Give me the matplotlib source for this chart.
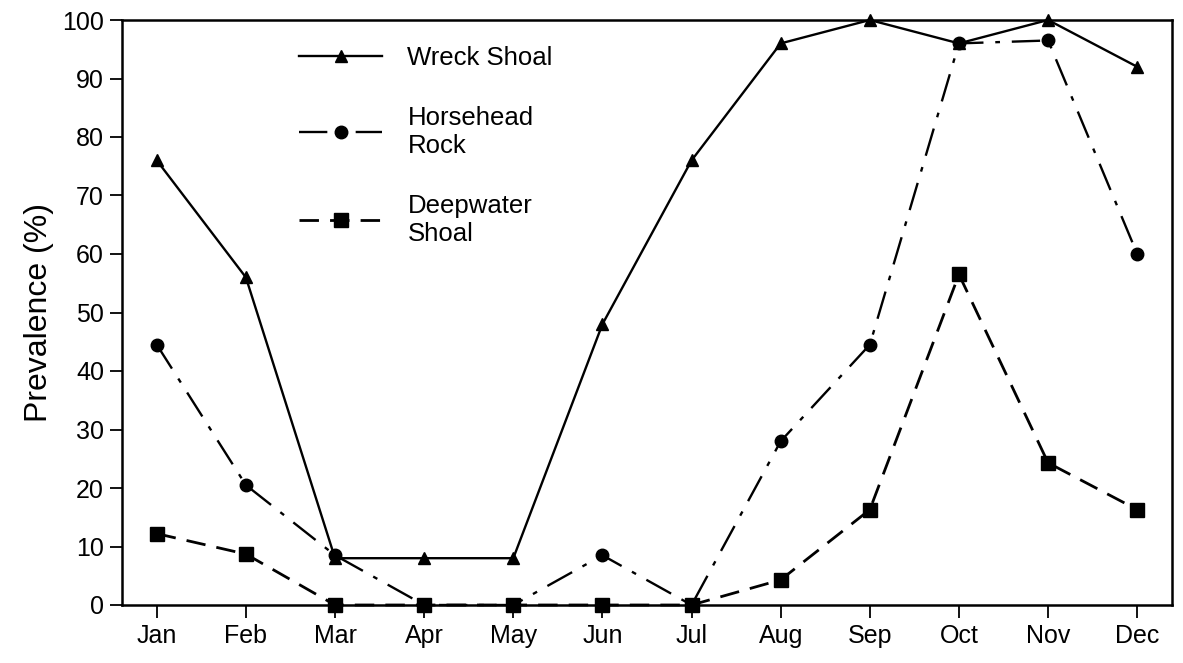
import numpy as np
import matplotlib.pyplot as plt

plt.rcParams['font.family'] = ['Liberation Sans', 'DejaVu Sans']

months = ['Jan', 'Feb', 'Mar', 'Apr', 'May', 'Jun', 'Jul', 'Aug', 'Sep', 'Oct', 'Nov', 'Dec']
wreck_shoal = [76, 56, 8, 8, 8, 48, 76, 96, 100, 96, 100, 92]
horsehead_rock = [44.5, 20.5, 8.5, 0, 0, 8.5, 0, 28, 44.5, 96, 96.5, 60]
deepwater_shoal = [12.2, 8.7, 0, 0, 0, 0, 0, 4.3, 16.3, 56.5, 24.3, 16.3]

x = np.arange(len(months))

fig = plt.figure(figsize=(11.83, 6.63), dpi=100)
ax = fig.add_axes([122 / 1183, 58 / 663, 1050 / 1183, 585 / 663])

ax.plot(x, wreck_shoal, color='black', lw=1.7, marker='^', ms=9,
        label='Wreck Shoal', clip_on=False, zorder=3)
ax.plot(x, horsehead_rock, color='black', lw=1.7, ls=(0, (12, 5, 2, 5)), marker='o', ms=9,
        label='Horsehead\nRock', clip_on=False, zorder=3)
ax.plot(x, deepwater_shoal, color='black', lw=2, ls=(0, (7, 4)), marker='s', ms=10,
        label='Deepwater\nShoal', clip_on=False, zorder=3)

ax.set_xlim(-0.39, 11.39)
ax.set_ylim(0, 100)
ax.set_xticks(x)
ax.set_xticklabels(months)
ax.set_yticks(np.arange(0, 101, 10))
ax.tick_params(axis='both', direction='out', length=9, width=1.3, labelsize=18, colors='black')
ax.tick_params(axis='x', pad=5)
ax.tick_params(axis='y', pad=4)
for s in ax.spines.values():
    s.set_linewidth(1.8)
ax.set_ylabel('Prevalence (%)', fontsize=23, labelpad=6)

leg = ax.legend(loc='upper left', bbox_to_anchor=(0.147, 0.995), frameon=False,
                fontsize=18.5, handlelength=3.2, handletextpad=1.0, labelspacing=1.4)

fig.savefig('out.png', dpi=100)
